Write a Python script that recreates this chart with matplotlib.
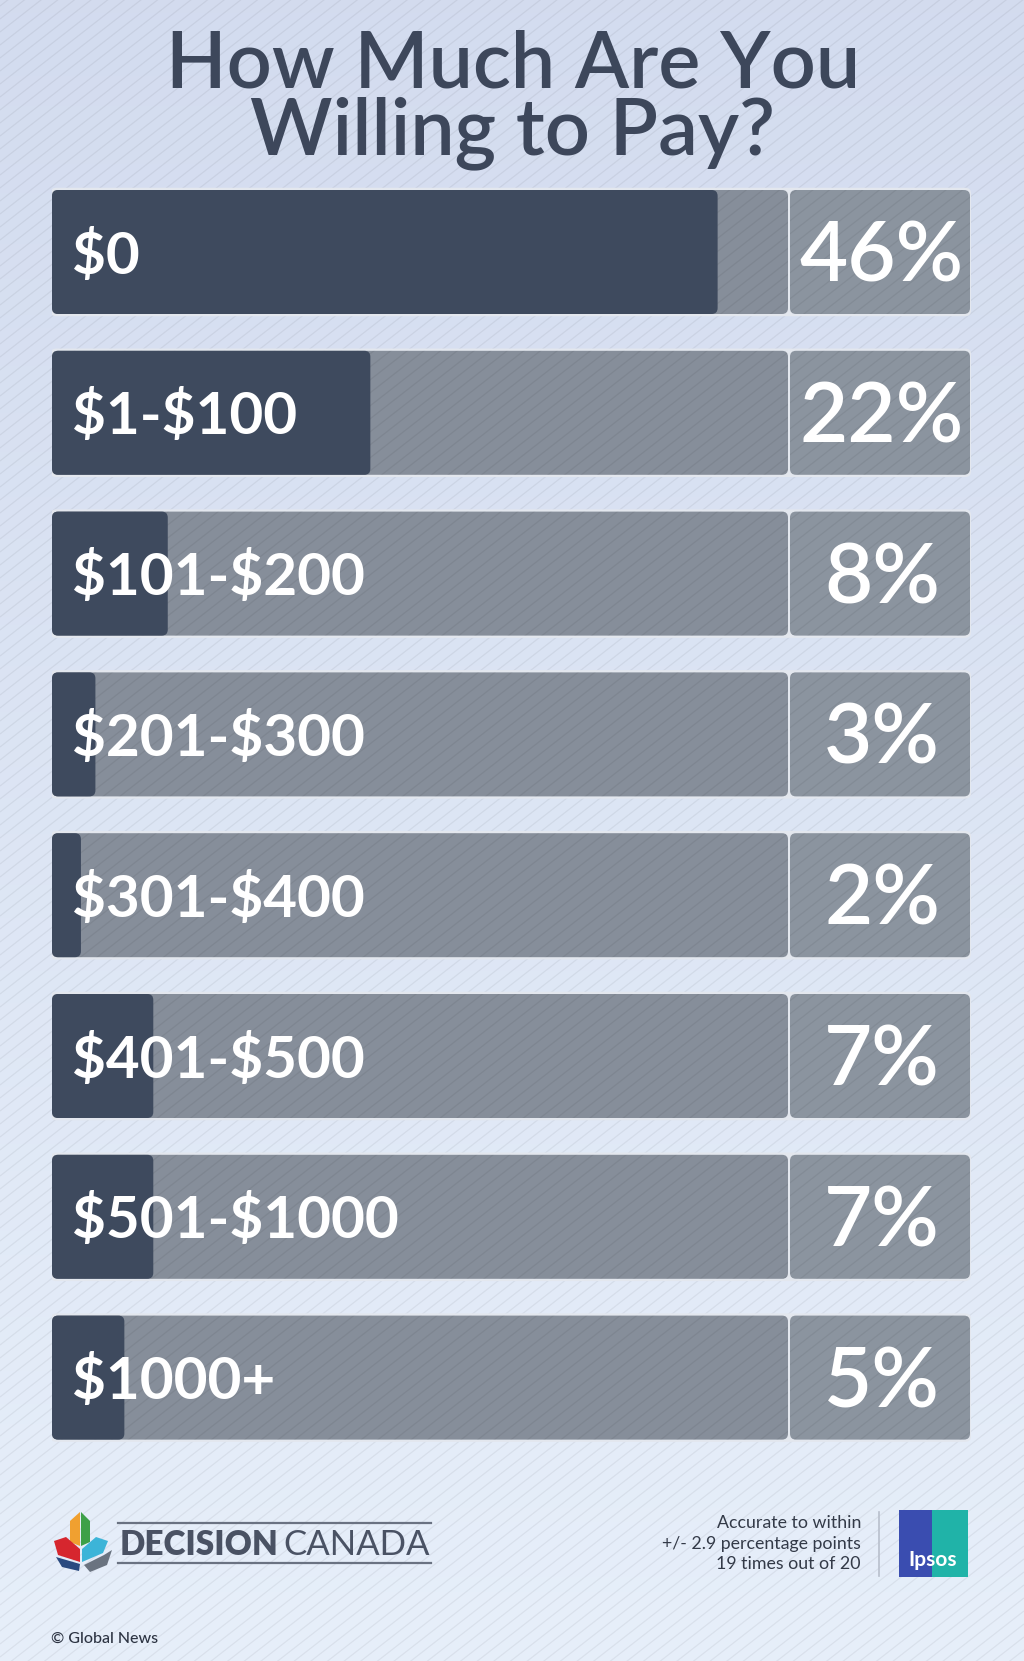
import numpy as np
import matplotlib
matplotlib.use("Agg")
import matplotlib.pyplot as plt
from matplotlib.patches import FancyBboxPatch, Polygon, Rectangle
from matplotlib.collections import LineCollection

# ---------------- data ----------------
categories = ['$0', '$1-$100', '$101-$200', '$201-$300', '$301-$400',
              '$401-$500', '$501-$1000', '$1000+']
values = [46, 22, 8, 3, 2, 7, 7, 5]
pct_labels = ['46%', '22%', '8%', '3%', '2%', '7%', '7%', '5%']
title_lines = ['How Much Are You', 'Willing to Pay?']
note_lines = ['Accurate to within', '+/- 2.9 percentage points', '19 times out of 20']
credit = '\u00a9 Global News'

FONT = ['Lato', 'DejaVu Sans']
W, H = 1024, 1661
fig = plt.figure(figsize=(W / 100, H / 100), dpi=100)

# ---------------- background ----------------
bg = fig.add_axes([0, 0, 1, 1])
bg.set_xlim(0, W)
bg.set_ylim(H, 0)
bg.axis('off')
top = np.array([0.828, 0.862, 0.937])
bot = np.array([0.905, 0.937, 0.980])
t = np.linspace(0, 1, 256)[:, None]
grad = (top[None, None, :] * (1 - t[..., None]) + bot[None, None, :] * t[..., None])
grad = np.repeat(grad, 2, axis=1)
bg.imshow(grad, extent=[0, W, H, 0], aspect='auto', zorder=0, interpolation='bilinear')

slope = np.tan(np.radians(38))
def stripe_segments():
    segs = []
    for c in np.arange(-20, H + W * slope + 20, 13):
        segs.append([(0, c), (W, c - W * slope)])
    return segs

bg.add_collection(LineCollection(stripe_segments(), colors=[(0, 0, 0, 0.055)],
                                 linewidths=0.9, zorder=1))

# title
title_color = '#3d475b'
bg.text(513, 87, title_lines[0], ha='center', va='baseline', fontsize=57,
        color=title_color, family=FONT, weight='semibold', zorder=5)
bg.text(513, 154, title_lines[1], ha='center', va='baseline', fontsize=57,
        color=title_color, family=FONT, weight='semibold', zorder=5)

# ---------------- bars ----------------
px_per_pct = 14.47
row_px = 160.8
ax = fig.add_axes([52 / W, (H - 1458) / H, (971 - 52) / W, (1458 - 171.6) / H])
ax.set_xlim(0, (971 - 52) / px_per_pct)
ax.set_ylim(len(categories) - 0.5, -0.5)
ax.axis('off')
ax.patch.set_alpha(0)

track_end = (788 - 52) / px_per_pct
box_start = (790 - 52) / px_per_pct
box_end = (970 - 52) / px_per_pct
bar_h = 124 / row_px
rs = 6 / px_per_pct
asp = (6 / row_px) / rs
style = f"round,pad=0,rounding_size={rs}"

dark = '#3e4a5e'
track_c = '#868e9a'
box_c = '#8b949f'
edge_c = '#e3e7ee'

for i, (cat, v, pl) in enumerate(zip(categories, values, pct_labels)):
    y0 = i - bar_h / 2
    frame = FancyBboxPatch((-0.12, y0 - 0.014), box_end + 0.2, bar_h + 0.028,
                           boxstyle=style, mutation_aspect=asp,
                           facecolor=edge_c, edgecolor='none', zorder=1)
    ax.add_patch(frame)
    track = FancyBboxPatch((0, y0), track_end, bar_h, boxstyle=style,
                           mutation_aspect=asp, facecolor=track_c,
                           edgecolor='none', zorder=2)
    ax.add_patch(track)
    box = FancyBboxPatch((box_start, y0), box_end - box_start, bar_h, boxstyle=style,
                         mutation_aspect=asp, facecolor=box_c,
                         edgecolor='none', zorder=2)
    ax.add_patch(box)
    for p in (track, box):
        lc = LineCollection(stripe_segments(), colors=[(0, 0, 0, 0.06)],
                            linewidths=0.9, zorder=3, transform=bg.transData)
        ax.add_collection(lc)
        lc.set_clip_path(p)
    fill = FancyBboxPatch((0, y0), v, bar_h, boxstyle=style,
                          mutation_aspect=asp, facecolor=dark,
                          edgecolor='none', zorder=4)
    ax.add_patch(fill)
    ax.text(20 / px_per_pct, i + 21.5 / row_px, cat, ha='left', va='baseline',
            fontsize=42, color='white', family=FONT, weight='bold',
            parse_math=False, zorder=6)
    ax.text((882 - 52) / px_per_pct, i + 29.5 / row_px, pl, ha='center', va='baseline',
            fontsize=60, color='white', family=FONT, weight='semibold',
            parse_math=False, zorder=6)

# ---------------- footer ----------------
leaf = [
    ('#f0a030', [(70, 1521), (80, 1512), (80, 1546), (70, 1542)]),
    ('#3da048', [(81, 1512), (90, 1521), (90, 1542), (81, 1546)]),
    ('#d6262e', [(54, 1541), (66, 1537), (80, 1549), (80, 1562), (58, 1555)]),
    ('#2a4a80', [(56, 1557), (80, 1564), (79, 1571), (62, 1567)]),
    ('#3cb4d8', [(82, 1549), (96, 1537), (108, 1541), (103, 1553), (82, 1562)]),
    ('#6a7380', [(84, 1565), (104, 1555), (112, 1550), (107, 1565), (90, 1572)]),
]
for col, pts in leaf:
    bg.add_patch(Polygon(pts, closed=True, facecolor=col, edgecolor='none', zorder=5))

logo_c = '#4a5264'
bg.plot([118, 431], [1523, 1523], color='#6a7282', lw=1.6, zorder=5)
bg.plot([118, 431], [1563, 1563], color='#6a7282', lw=1.6, zorder=5)
bg.text(120, 1555, 'DECISION', ha='left', va='baseline', fontsize=24,
        color=logo_c, family=FONT, weight='heavy', zorder=6)
bg.text(430, 1555, 'CANADA', ha='right', va='baseline', fontsize=25,
        color=logo_c, family=FONT, weight='normal', zorder=6)

for k, line in enumerate(note_lines):
    bg.text(861, 1528 + 20.5 * k, line, ha='right', va='baseline', fontsize=12.8,
            color='#333a48', family=FONT, zorder=6)
bg.plot([879, 879], [1512, 1576], color='#b8bfcc', lw=1.2, zorder=5)

bg.add_patch(Rectangle((899, 1510), 33, 67, facecolor='#3a4db0', edgecolor='none', zorder=5))
bg.add_patch(Rectangle((932, 1510), 36, 67, facecolor='#20b3a8', edgecolor='none', zorder=5))
bg.text(933, 1566, 'Ipsos', ha='center', va='baseline', fontsize=15,
        color='white', family=FONT, weight='bold', zorder=6)

bg.text(51, 1643, credit, ha='left', va='baseline', fontsize=11.5,
        color='#2c3342', family=FONT, weight='medium', zorder=6)

fig.savefig('out.png', dpi=100)
